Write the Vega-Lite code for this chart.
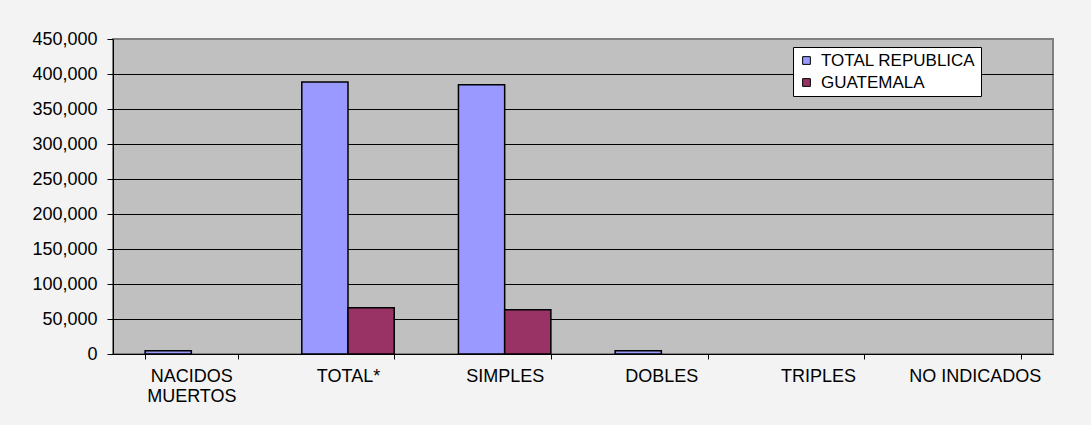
{
  "$schema": "https://vega.github.io/schema/vega-lite/v6.json",
  "autosize": {"type": "none"},
  "width": 940,
  "height": 315,
  "padding": {"left": 113, "top": 39, "right": 38, "bottom": 71},
  "background": "#F3F3F3",
  "config": {
    "font": "Liberation Sans",
    "view": {"fill": "#C0C0C0", "stroke": "#808080", "strokeWidth": 2},
    "axis": {
      "labelFont": "Liberation Sans",
      "labelFontSize": 18,
      "labelColor": "#000000",
      "domainColor": "#000000",
      "domainWidth": 1,
      "tickColor": "#000000",
      "tickWidth": 1,
      "title": null
    },
    "legend": {
      "labelFont": "Liberation Sans",
      "labelFontSize": 17,
      "labelColor": "#000000",
      "labelLimit": 400
    }
  },
  "data": {
    "values": [
      {"categoria": "NACIDOS MUERTOS", "ambito": "TOTAL REPUBLICA", "valor": 4700},
      {"categoria": "NACIDOS MUERTOS", "ambito": "GUATEMALA", "valor": 0},
      {"categoria": "TOTAL*", "ambito": "TOTAL REPUBLICA", "valor": 388600},
      {"categoria": "TOTAL*", "ambito": "GUATEMALA", "valor": 66200},
      {"categoria": "SIMPLES", "ambito": "TOTAL REPUBLICA", "valor": 384700},
      {"categoria": "SIMPLES", "ambito": "GUATEMALA", "valor": 63300},
      {"categoria": "DOBLES", "ambito": "TOTAL REPUBLICA", "valor": 4700},
      {"categoria": "DOBLES", "ambito": "GUATEMALA", "valor": 0},
      {"categoria": "TRIPLES", "ambito": "TOTAL REPUBLICA", "valor": 0},
      {"categoria": "TRIPLES", "ambito": "GUATEMALA", "valor": 0},
      {"categoria": "NO INDICADOS", "ambito": "TOTAL REPUBLICA", "valor": 0},
      {"categoria": "NO INDICADOS", "ambito": "GUATEMALA", "valor": 0}
    ]
  },
  "mark": {"type": "bar", "stroke": "#000000", "strokeWidth": 1.5},
  "encoding": {
    "x": {
      "field": "categoria",
      "type": "nominal",
      "sort": ["NACIDOS MUERTOS", "TOTAL*", "SIMPLES", "DOBLES", "TRIPLES", "NO INDICADOS"],
      "scale": {"paddingInner": 0.41, "paddingOuter": 0.205},
      "axis": {
        "labelAngle": 0,
        "labelExpr": "datum.value === 'NACIDOS MUERTOS' ? ['NACIDOS', 'MUERTOS'] : datum.value",
        "labelLineHeight": 20,
        "labelPadding": 8,
        "tickSize": 5,
        "tickBand": "extent",
        "grid": false
      }
    },
    "xOffset": {
      "field": "ambito",
      "type": "nominal",
      "sort": ["TOTAL REPUBLICA", "GUATEMALA"],
      "scale": {"paddingInner": 0, "paddingOuter": 0}
    },
    "y": {
      "field": "valor",
      "type": "quantitative",
      "scale": {"domain": [0, 450000], "nice": false},
      "axis": {
        "values": [0, 50000, 100000, 150000, 200000, 250000, 300000, 350000, 400000, 450000],
        "format": ",.0f",
        "tickSize": 6,
        "labelPadding": 10,
        "grid": true,
        "gridColor": {"condition": {"test": "datum.value === 450000", "value": "#808080"}, "value": "#000000"},
        "gridWidth": 1,
        "gridOpacity": 1
      }
    },
    "color": {
      "field": "ambito",
      "type": "nominal",
      "sort": ["TOTAL REPUBLICA", "GUATEMALA"],
      "scale": {"domain": ["TOTAL REPUBLICA", "GUATEMALA"], "range": ["#9999FF", "#993366"]},
      "legend": {
        "title": null,
        "orient": "none",
        "legendX": 680,
        "legendY": 8,
        "fillColor": "#FFFFFF",
        "strokeColor": "#000000",
        "padding": 5,
        "symbolType": "square",
        "symbolSize": 60,
        "symbolStrokeColor": "#000000",
        "symbolStrokeWidth": 1,
        "rowPadding": 4,
        "labelOffset": 6
      }
    },
    "strokeOpacity": {
      "condition": {"test": "datum.valor === 0", "value": 0},
      "value": 1
    }
  }
}
